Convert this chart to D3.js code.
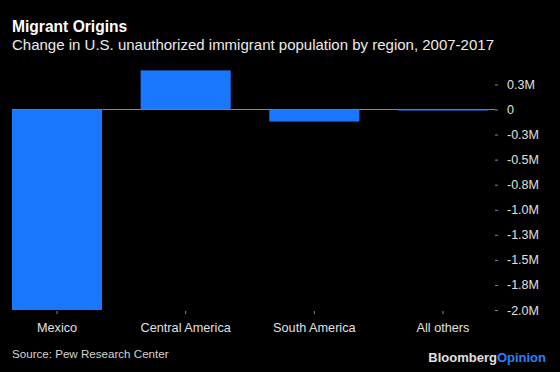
<!DOCTYPE html>
<html>
<head>
<meta charset="utf-8">
<script src="https://cdn.jsdelivr.net/npm/d3@7"></script>
<style>
  html, body { margin: 0; padding: 0; background: #000; }
  svg { display: block; font-family: "Liberation Sans", Arial, sans-serif; }
</style>
</head>
<body>
<div id="chart"></div>
<script>
// chart data
var regions = ["Mexico", "Central America", "South America", "All others"];
var changes = [-2.0, 0.39, -0.12, -0.01];   // millions, 2007-2017
var tickValues = [0.25, 0, -0.25, -0.5, -0.75, -1.0, -1.25, -1.5, -1.75, -2.0];
var tickLabels = ["0.3M", "0", "-0.3M", "-0.5M", "-0.8M", "-1.0M", "-1.3M", "-1.5M", "-1.8M", "-2.0M"];

var width = 560, height = 372;

var svg = d3.select("#chart").append("svg")
    .attr("width", width)
    .attr("height", height);

svg.append("rect")
    .attr("width", width)
    .attr("height", height)
    .attr("fill", "#000");

// titles
svg.append("text")
    .attr("x", 12)
    .attr("y", 32)
    .attr("fill", "#fff")
    .style("font-size", "15.6px")
    .style("font-weight", "bold")
    .text("Migrant Origins");

svg.append("text")
    .attr("x", 12)
    .attr("y", 50)
    .attr("fill", "#ececec")
    .style("font-size", "15px")
    .text("Change in U.S. unauthorized immigrant population by region, 2007-2017");

// scales
var x = d3.scaleBand()
    .domain(regions)
    .range([12, 488])
    .paddingInner(0.3)
    .paddingOuter(0);

var y = d3.scaleLinear()
    .domain([0, -2])
    .range([109.5, 310]);

// zero line
svg.append("line")
    .attr("x1", 12)
    .attr("x2", 495)
    .attr("y1", y(0))
    .attr("y2", y(0))
    .attr("stroke", "#8a8a8a")
    .attr("stroke-width", 1);

// bars
svg.append("g")
    .selectAll("rect")
    .data(changes)
    .enter().append("rect")
    .attr("x", function (d, i) { return x(regions[i]); })
    .attr("width", x.bandwidth())
    .attr("y", function (d) { return Math.min(y(d), y(0)); })
    .attr("height", function (d) { return Math.abs(y(d) - y(0)); })
    .attr("fill", "#1a78ff");

// y axis on the right
var yAxis = svg.append("g")
    .attr("transform", "translate(495,0)")
    .call(d3.axisRight(y)
        .tickValues(tickValues)
        .tickFormat(function (d, i) { return tickLabels[i]; })
        .tickSize(3)
        .tickPadding(9));
yAxis.select(".domain").remove();
yAxis.selectAll(".tick line").attr("stroke", "#8a8a8a");
yAxis.selectAll(".tick text")
    .attr("fill", "#e0e0e0")
    .style("font-size", "12.5px")
    .style("font-family", "'Liberation Sans', Arial, sans-serif");

// x axis
var xAxis = svg.append("g")
    .attr("transform", "translate(0,311)")
    .call(d3.axisBottom(x)
        .tickSize(3)
        .tickPadding(9));
xAxis.select(".domain").remove();
xAxis.selectAll(".tick line").attr("stroke", "#8a8a8a");
xAxis.selectAll(".tick text")
    .attr("fill", "#e0e0e0")
    .style("font-size", "12.7px")
    .style("font-family", "'Liberation Sans', Arial, sans-serif");

// footer
svg.append("text")
    .attr("x", 12)
    .attr("y", 358)
    .attr("fill", "#d4d4d4")
    .style("font-size", "11.6px")
    .text("Source: Pew Research Center");

var logo = svg.append("text")
    .attr("x", 546)
    .attr("y", 362)
    .attr("text-anchor", "end")
    .style("font-size", "13px")
    .style("font-weight", "bold");
logo.append("tspan").attr("fill", "#e0e0e0").text("Bloomberg");
logo.append("tspan").attr("fill", "#2a80ff").text("Opinion");
</script>
</body>
</html>
